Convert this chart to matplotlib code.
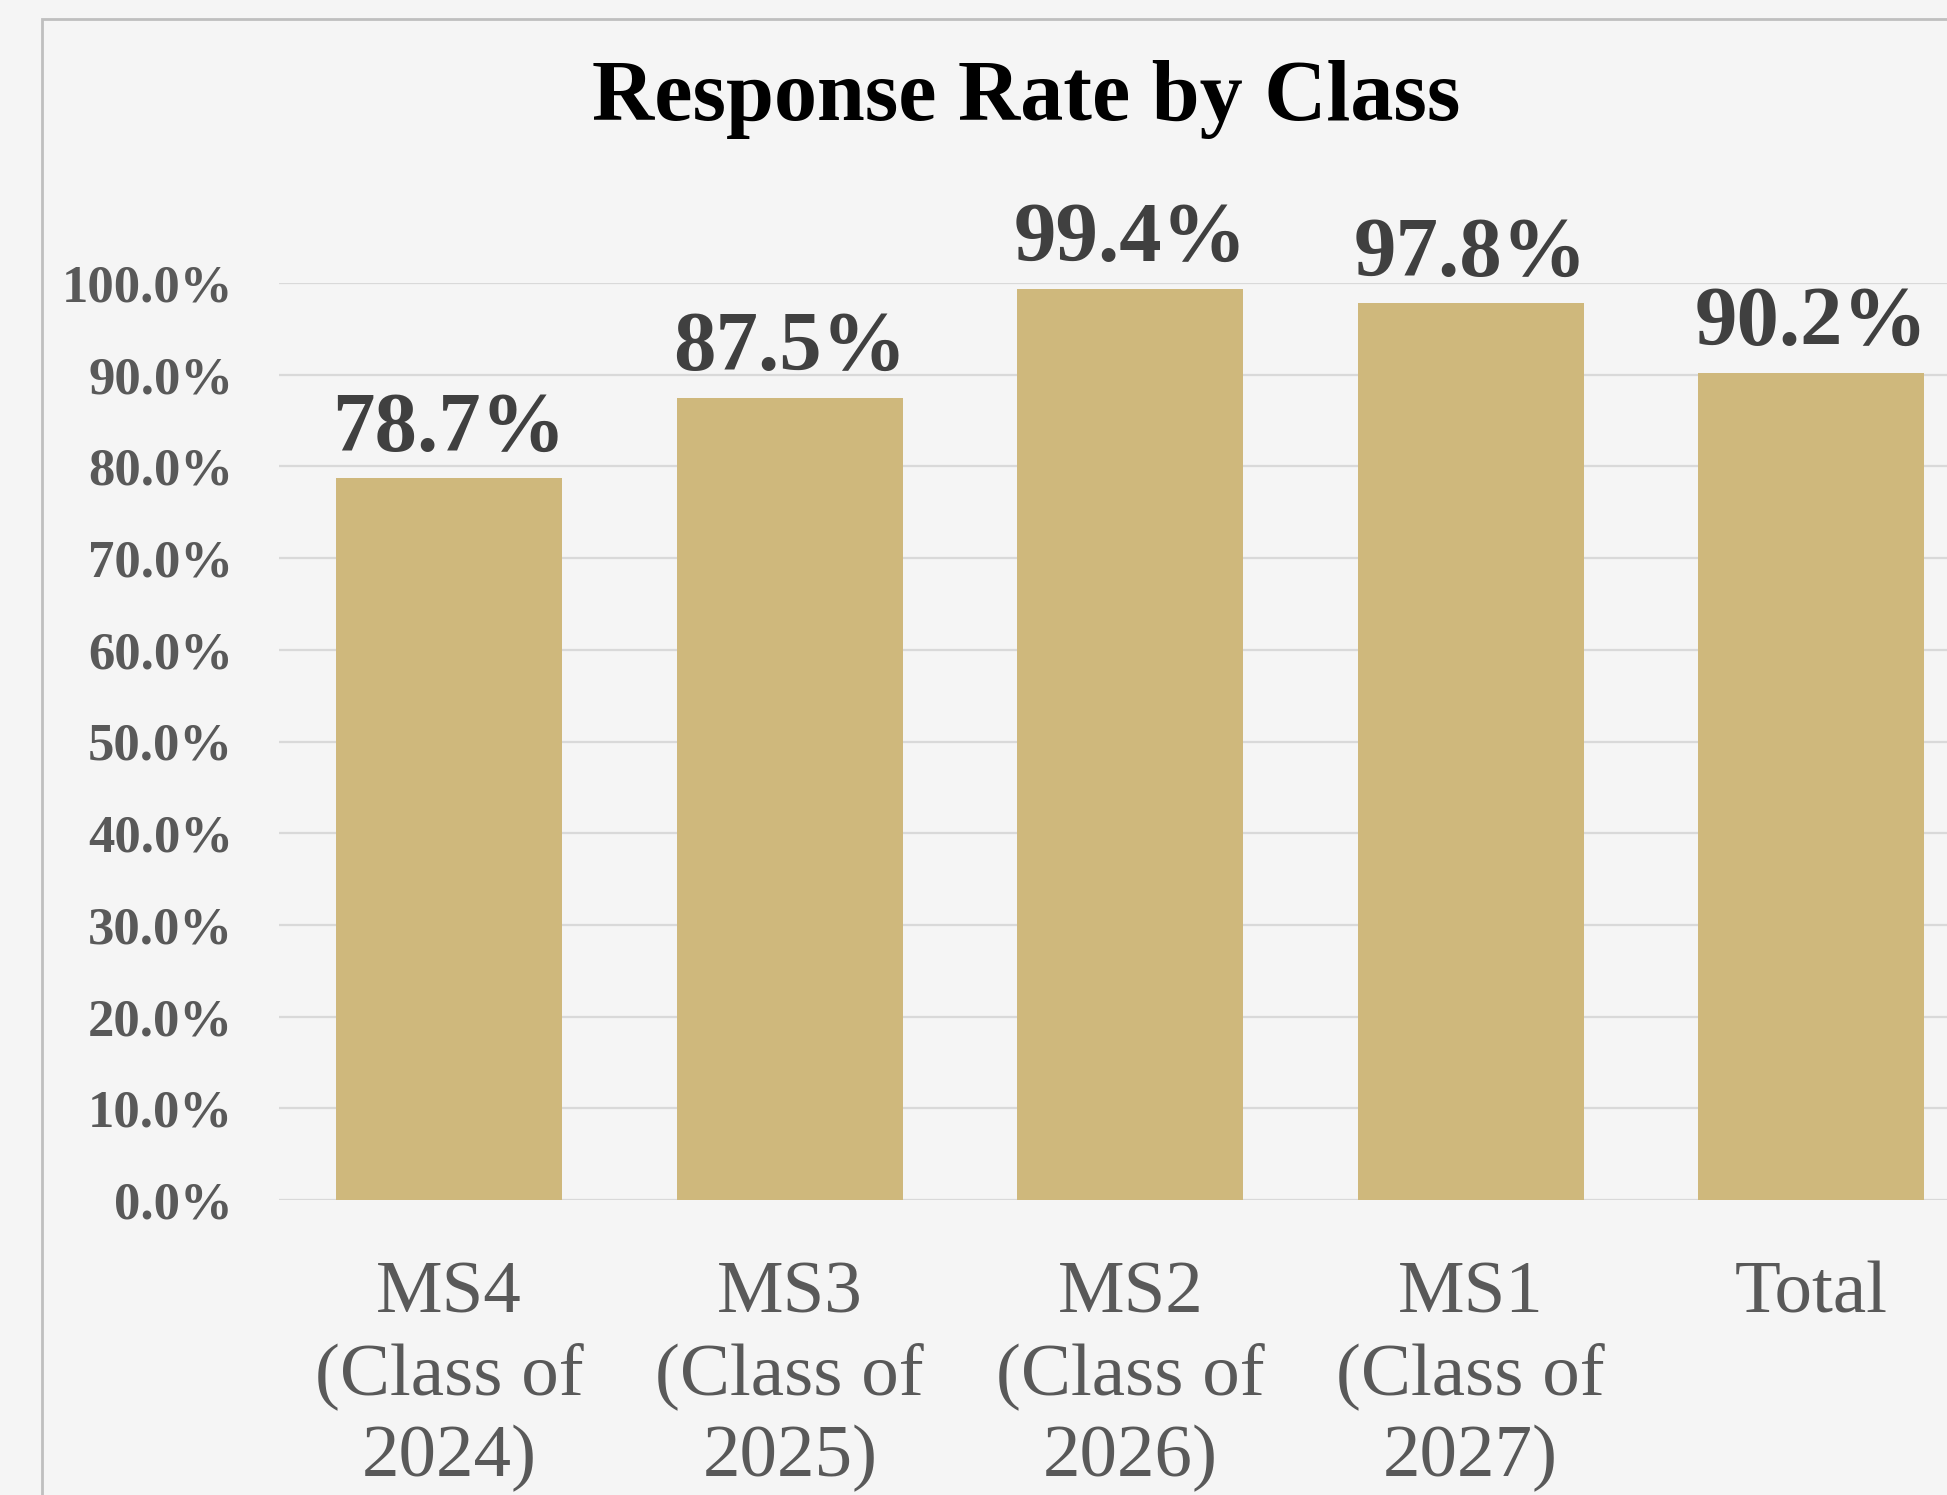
import matplotlib
matplotlib.use("Agg")
import matplotlib.pyplot as plt
from matplotlib.patches import Rectangle

plt.rcParams['font.family'] = ['Liberation Serif', 'DejaVu Serif']

categories = ["MS4\n(Class of\n2024)", "MS3\n(Class of\n2025)", "MS2\n(Class of\n2026)",
              "MS1\n(Class of\n2027)", "Total"]
rates = [78.7, 87.5, 99.4, 97.8, 90.2]
yticks = [0, 10, 20, 30, 40, 50, 60, 70, 80, 90, 100]

bg = "#F5F5F5"
fig = plt.figure(figsize=(19.47, 14.95), dpi=100, facecolor=bg)

# chart border (cropped on right / bottom)
fig.patches.append(Rectangle((42 / 1947, -0.1), 1.2, 1.1 - 19 / 1495,
                             transform=fig.transFigure, fill=False,
                             edgecolor="#BFBFBF", linewidth=2.0))

ax = fig.add_axes([279 / 1947, 295 / 1495, 1702.5 / 1947, 917 / 1495])
ax.set_facecolor(bg)

x = list(range(len(rates)))
bars = ax.bar(x, [r / 100 for r in rates], width=0.664, color="#CFB87C", zorder=3)
ax.bar_label(bars, labels=[f"{r:.1f}%" for r in rates], padding=7,
             fontsize=61, fontweight="bold", color="#404040", clip_on=False)

ax.set_xlim(-0.5, 4.5)
ax.set_ylim(0, 1)
ax.set_yticks([t / 100 for t in yticks])
ax.set_yticklabels([f"{t:.1f}%" for t in yticks], fontsize=38, fontweight="bold", color="#595959")
ax.set_xticks(x)
ax.set_xticklabels(categories, fontsize=54, color="#595959", linespacing=1.27)
ax.tick_params(axis="y", length=0, pad=33)
ax.tick_params(axis="x", length=0, pad=44)
ax.grid(axis="y", color="#D9D9D9", linewidth=1.6, zorder=0)
for s in ax.spines.values():
    s.set_visible(False)

fig.text(1026 / 1947, 1 - 120 / 1495, "Response Rate by Class", ha="center", va="baseline",
         fontsize=62, fontweight="bold", color="black")

fig.savefig("out.png", dpi=100, facecolor=bg)
